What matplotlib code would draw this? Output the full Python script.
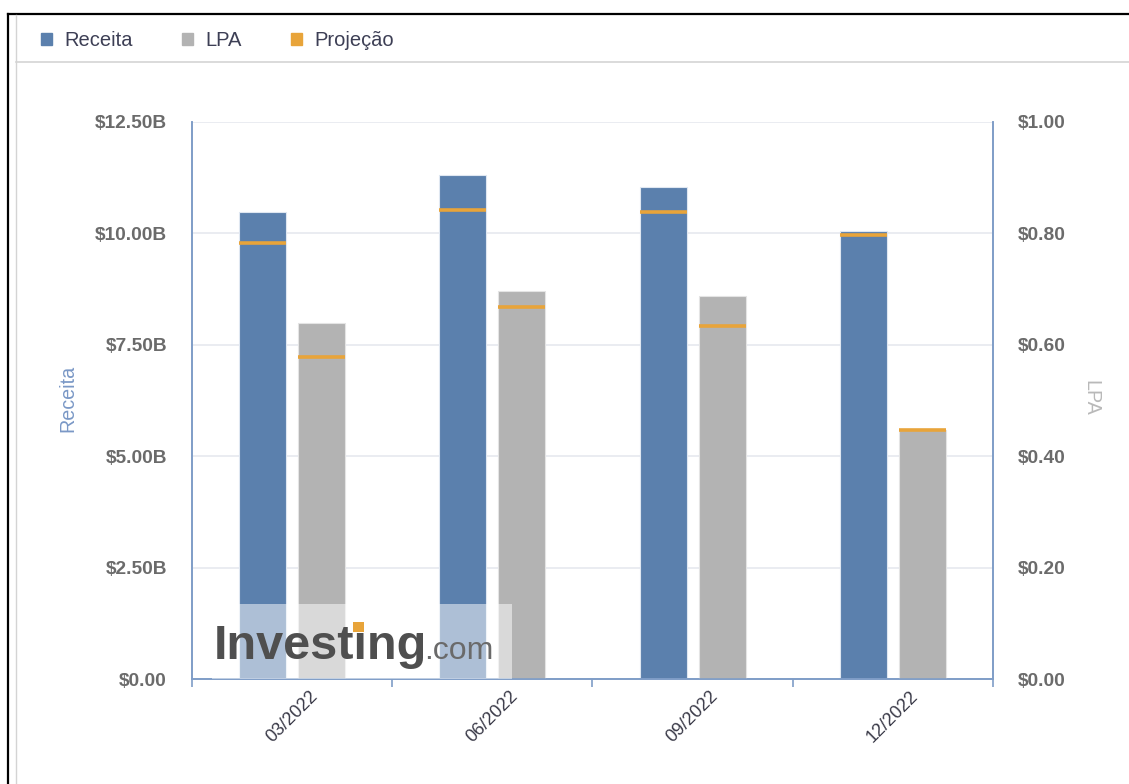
import numpy as np
import matplotlib.pyplot as plt
from matplotlib.patches import Patch, Rectangle
from matplotlib.lines import Line2D

plt.rcParams["font.family"] = ["Liberation Sans", "DejaVu Sans"]

W, H = 1129, 784

# dados (receita em bilhões de US$, LPA em US$)
periods = ["03/2022", "06/2022", "09/2022", "12/2022"]
receita = [10.48, 11.31, 11.04, 10.05]
receita_proj = [9.78, 10.52, 10.48, 9.96]
lpa = [0.639, 0.697, 0.688, 0.447]
lpa_proj = [0.578, 0.668, 0.634, 0.447]

BLUE = "#5b80ad"
GRAY = "#b3b3b3"
ORANGE = "#e8a43a"
AXIS = "#7f9dc7"
GRID = "#e6e9ef"
TICK = "#6b6b6b"


def fx(px):
    return px / W


def fy(py):
    return 1 - py / H


fig = plt.figure(figsize=(W / 100, H / 100), dpi=100)
ax = fig.add_axes([fx(192), fy(679), fx(993) - fx(192), fy(122) - fy(679)])
ax2 = ax.twinx()

x = np.arange(len(periods))
w = 0.235
off = 0.1475

ax.bar(x - off, receita, w, color=BLUE, edgecolor="#dfe7f1", linewidth=0.8, zorder=2)
ax.hlines(receita_proj, x - off - w / 2, x - off + w / 2, color=ORANGE, linewidth=2.6, zorder=3)
ax2.bar(x + off, lpa, w, color=GRAY, edgecolor="#e4e4e4", linewidth=0.8, zorder=2)
ax2.hlines(lpa_proj, x + off - w / 2, x + off + w / 2, color=ORANGE, linewidth=2.6, zorder=3)

ax.set_xlim(-0.5, len(periods) - 0.5)
ax.set_ylim(0, 12.5)
ax2.set_ylim(0, 1.0)

yt = np.arange(0, 12.51, 2.5)
ax.set_yticks(yt)
ax.set_yticklabels(["$0.00"] + ["${:.2f}B".format(v) for v in yt[1:]])
yt2 = np.arange(0, 1.01, 0.2)
ax2.set_yticks(yt2)
ax2.set_yticklabels(["${:.2f}".format(v) for v in yt2])

ax.set_xticks(x)
ax.set_xticklabels(periods, rotation=45, ha="center", va="top",
                   fontsize=13, color="#3a3a48")
ax.set_xticks(np.arange(-0.5, len(periods), 1.0), minor=True)
ax.tick_params(axis="x", which="major", length=0, pad=6)
ax.tick_params(axis="x", which="minor", length=6, color=AXIS, width=1.2)

for a in (ax, ax2):
    a.tick_params(axis="y", length=0, pad=18, labelsize=13.8, labelcolor=TICK)
    for lbl in a.get_yticklabels():
        lbl.set_fontweight("bold")
    for s in a.spines.values():
        s.set_color(AXIS)
        s.set_linewidth(1.2)
    a.spines["top"].set_visible(False)

ax.grid(axis="y", color=GRID, linewidth=1.2)
ax.set_axisbelow(True)

fig.text(fx(68), fy(398), "Receita", rotation=90, ha="center", va="center",
         fontsize=14.2, color="#7a98c6")
fig.text(fx(1091), fy(398), "LPA", rotation=270, ha="center", va="center",
         fontsize=14.2, color="#b9b9b9")

# legenda
handles = [Patch(color=BLUE, label="Receita"),
           Patch(color=GRAY, label="LPA"),
           Patch(color=ORANGE, label="Projeção")]
leg = fig.legend(handles=handles, loc="center left", bbox_to_anchor=(fx(41), fy(40.5)),
                 ncol=3, frameon=False, fontsize=14.5, handlelength=0.55,
                 handleheight=0.55, handletextpad=0.6, columnspacing=2.45,
                 borderpad=0, borderaxespad=0)
for t in leg.get_texts():
    t.set_color("#3d3f55")

# moldura
fig.add_artist(Line2D([fx(8), fx(8)], [fy(14), 0], color="black", linewidth=1.6))
fig.add_artist(Line2D([fx(8), 1], [fy(14), fy(14)], color="black", linewidth=1.6))
fig.add_artist(Line2D([fx(16), fx(16)], [fy(15), 0], color="#d4d4d4", linewidth=1))
fig.add_artist(Line2D([fx(16), 1], [fy(62), fy(62)], color="#d4d4d4", linewidth=1.2))

# marca d'água
fig.add_artist(Rectangle((fx(212), fy(679)), fx(512) - fx(212), fy(604) - fy(679),
                         transform=fig.transFigure, color="white", alpha=0.5,
                         linewidth=0, zorder=5))
fig.text(fx(214), fy(659), "Investing", fontsize=35, fontweight="bold",
         color="#4f4f4f", va="baseline", zorder=6)
fig.text(fx(424), fy(659), ".com", fontsize=23, color="#6a6a6a",
         va="baseline", zorder=6)
fig.add_artist(Rectangle((fx(353), fy(632)), fx(364) - fx(353), fy(622) - fy(632),
                         transform=fig.transFigure, color=ORANGE, linewidth=0, zorder=7))

fig.savefig("out.png", dpi=100, facecolor="white")
plt.close()
